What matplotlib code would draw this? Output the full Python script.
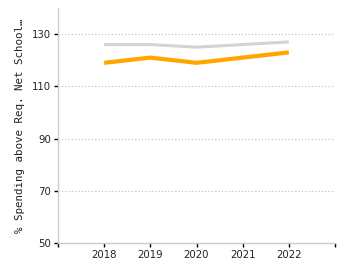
import matplotlib
matplotlib.use("Agg")
import matplotlib.pyplot as plt

years = [2018, 2019, 2020, 2021, 2022]
grey_series = [126, 126, 125, 126, 127]
orange_series = [119, 121, 119, 121, 123]
yticks = [50, 70, 90, 110, 130]

fig = plt.figure(figsize=(3.5, 2.75), dpi=100)
ax = fig.add_axes([58/350, (275-243)/275, (335-58)/350, (243-8)/275])

ax.plot(years, grey_series, color="#d3d3d3", lw=2.2, solid_capstyle="butt", zorder=3)
ax.plot(years, orange_series, color="#ffa500", lw=3, solid_capstyle="butt", zorder=4)

ax.set_xlim(2017, 2023)
ax.set_ylim(50, 140)
ax.set_xticks([2017] + years + [2023])
ax.set_xticklabels([""] + [str(y) for y in years] + [""])
ax.set_yticks(yticks)
ax.set_yticklabels([str(v) for v in yticks])
for v in yticks[1:]:
    ax.axhline(v, color="#bbbbbb", lw=0.8, ls=(0, (1, 2)), zorder=1)

for s in ["top", "right"]:
    ax.spines[s].set_visible(False)
for s in ["left", "bottom"]:
    ax.spines[s].set_color("#cccccc")
    ax.spines[s].set_linewidth(1)
ax.tick_params(axis="both", length=3, width=1, color="black", labelsize=7.3, labelcolor="#222222", pad=2)
ax.set_ylabel("% Spending above Req. Net School\u2026", fontsize=7.8, color="#222222",
              labelpad=5, family="DejaVu Sans Mono")

fig.savefig("out.png", dpi=100)
